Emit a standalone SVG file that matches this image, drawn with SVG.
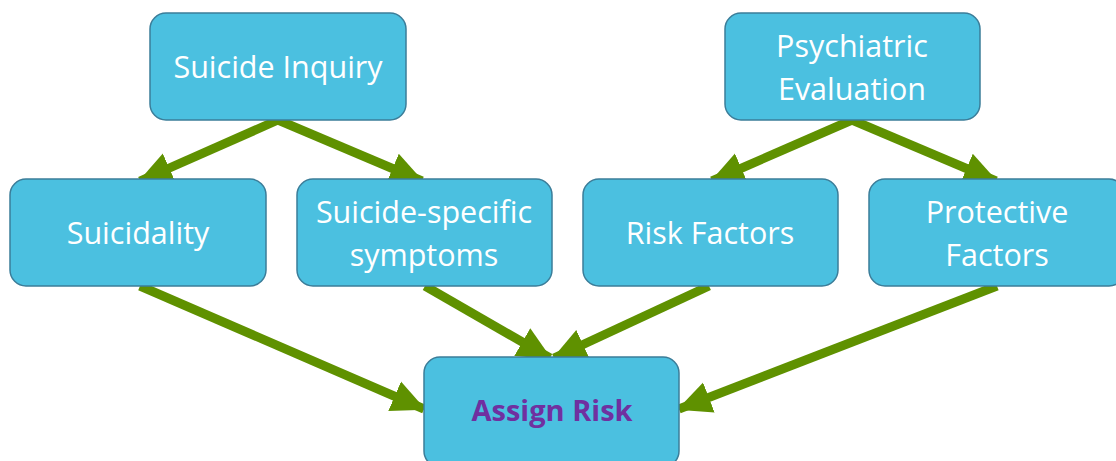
<svg xmlns="http://www.w3.org/2000/svg" width="1116" height="461" viewBox="0 0 1116 461">
<defs>
<style>
.box{fill:#4BC0E0;stroke:#3B7D99;stroke-width:1.5}
.t{font-family:"Open Sans","Liberation Sans",sans-serif;font-size:30.5px;fill:#ffffff;text-anchor:middle}
.a{font-family:"Open Sans","Liberation Sans",sans-serif;font-size:29px;font-weight:bold;fill:#7030A0;text-anchor:middle}
.c{stroke:#5F9100;stroke-width:9;fill:none}
</style>
<marker id="ah" markerUnits="userSpaceOnUse" markerWidth="34" markerHeight="34" viewBox="0 0 34 34" refX="32" refY="17" orient="auto">
<path d="M0,1 L34,17 L0,33 Z" fill="#5F9100"/>
</marker>
</defs>
<rect width="1116" height="461" fill="#ffffff"/>
<g id="connectors">
<line class="c" x1="278" y1="120" x2="140" y2="181" marker-end="url(#ah)"/>
<line class="c" x1="278" y1="120" x2="422" y2="181" marker-end="url(#ah)"/>
<line class="c" x1="852" y1="120" x2="712" y2="181" marker-end="url(#ah)"/>
<line class="c" x1="852" y1="120" x2="996" y2="181" marker-end="url(#ah)"/>
<line class="c" x1="140" y1="286" x2="424" y2="409" marker-end="url(#ah)"/>
<line class="c" x1="425" y1="286" x2="550" y2="358" marker-end="url(#ah)"/>
<line class="c" x1="709" y1="286" x2="554" y2="358" marker-end="url(#ah)"/>
<line class="c" x1="997" y1="286" x2="679" y2="409" marker-end="url(#ah)"/>
</g>
<g id="suicide-inquiry">
<rect class="box" x="150" y="13" width="256" height="107" rx="16"/>
<text class="t" x="278" y="78">Suicide Inquiry</text>
</g>
<g id="psychiatric-evaluation">
<rect class="box" x="725" y="13" width="255" height="107" rx="16"/>
<text class="t" x="852" y="57">Psychiatric</text>
<text class="t" x="852" y="100">Evaluation</text>
</g>
<g id="suicidality">
<rect class="box" x="10" y="179" width="256" height="107" rx="16"/>
<text class="t" x="138" y="244">Suicidality</text>
</g>
<g id="suicide-specific-symptoms">
<rect class="box" x="297" y="179" width="255" height="107" rx="16"/>
<text class="t" x="424" y="223">Suicide-specific</text>
<text class="t" x="424" y="266">symptoms</text>
</g>
<g id="risk-factors">
<rect class="box" x="583" y="179" width="255" height="107" rx="16"/>
<text class="t" x="710" y="244">Risk Factors</text>
</g>
<g id="protective-factors">
<rect class="box" x="869" y="179" width="256" height="107" rx="16"/>
<text class="t" x="997" y="223">Protective</text>
<text class="t" x="997" y="266">Factors</text>
</g>
<g id="assign-risk">
<rect class="box" x="424" y="357" width="255" height="110" rx="16"/>
<text class="a" x="552" y="421">Assign Risk</text>
</g>
</svg>
